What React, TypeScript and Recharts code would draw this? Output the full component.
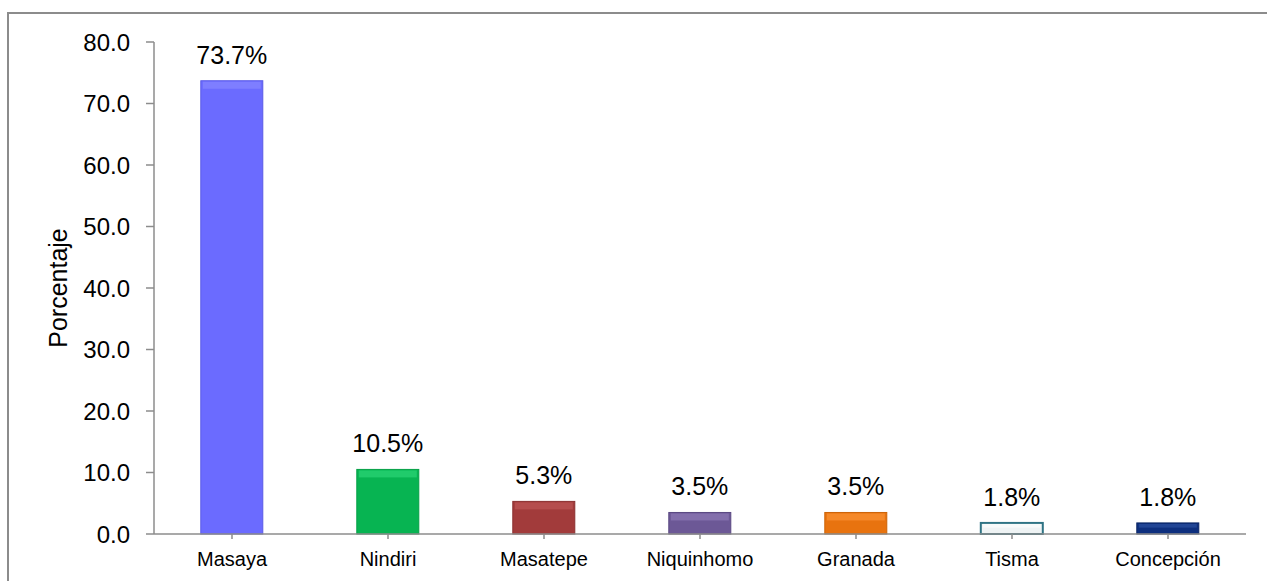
import React from 'react';
import { BarChart, Bar, XAxis, YAxis, Cell, LabelList } from 'recharts';

const categories = ['Masaya', 'Nindiri', 'Masatepe', 'Niquinhomo', 'Granada', 'Tisma', 'Concepción'];
const percentages = [73.7, 10.5, 5.3, 3.5, 3.5, 1.8, 1.8];
const yTicks = [0, 10, 20, 30, 40, 50, 60, 70, 80];

const fills = ['#6b6bff', '#07b452', '#a23b3b', '#6c5896', '#e8730f', '#eef3f4', '#0d2f7e'];
const highlights = ['#8e8eff', '#35df80', '#c55e5e', '#9883c0', '#ff9a40', '#ffffff', '#3358a8'];
const edges = ['#5a5ae6', '#05a046', '#8a3030', '#5a4882', '#cc6408', '#2f7384', '#0a2565'];

const data = categories.map((name, i) => ({ name, value: percentages[i], idx: i }));

const font = '"Liberation Sans", Arial, sans-serif';

// bar with a lighter bevel along the top, like the Excel 3D effect
const BevelBar = (props: any) => {
  const { x, y, width, height, payload } = props;
  const i = payload.idx;
  const band = Math.min(7, height / 3);
  return (
    <g>
      <rect x={x} y={y} width={width} height={height} fill={fills[i]} stroke={edges[i]} strokeWidth={i === 5 ? 2 : 1} />
      <rect x={x + 2} y={y + 1} width={width - 4} height={band} fill={highlights[i]} opacity={0.55} />
    </g>
  );
};

export default function App() {
  return (
    <div style={{ position: 'absolute', left: 0, top: 0, width: 1267, height: 581, overflow: 'hidden', background: '#fff' }}>
      <div style={{ position: 'absolute', left: 7, top: 12, width: 1300, height: 620, border: '2px solid #8c8c8c' }} />
      <div style={{ position: 'absolute', left: 0, top: 0 }}>
        <BarChart
          width={1267}
          height={581}
          data={data}
          margin={{ top: 42, right: 21, bottom: 0, left: 0 }}
          barCategoryGap="30%"
        >
          <XAxis
            dataKey="name"
            height={47}
            interval={0}
            tickSize={5}
            tickMargin={13}
            stroke="#8c8c8c"
            strokeWidth={1.5}
            tick={{ fill: '#000', fontSize: 20, fontFamily: font }}
          />
          <YAxis
            width={154}
            domain={[0, 80]}
            ticks={yTicks}
            tickFormatter={(v: number) => v.toFixed(1)}
            tickSize={8}
            tickMargin={16}
            stroke="#8c8c8c"
            strokeWidth={1.5}
            tick={{ fill: '#000', fontSize: 24, fontFamily: font }}
            label={{ value: 'Porcentaje', angle: -90, position: 'center', dx: -19, style: { fill: '#000', fontSize: 25, fontFamily: font } }}
          />
          <Bar dataKey="value" isAnimationActive={false} shape={<BevelBar />}>
            {data.map((d, i) => (
              <Cell key={`c-${i}`} fill={fills[i]} />
            ))}
            <LabelList
              dataKey="value"
              position="top"
              offset={17}
              formatter={(v: any) => `${Number(v).toFixed(1)}%`}
              style={{ fill: '#000', fontSize: 25, fontFamily: font }}
            />
          </Bar>
        </BarChart>
      </div>
    </div>
  );
}
